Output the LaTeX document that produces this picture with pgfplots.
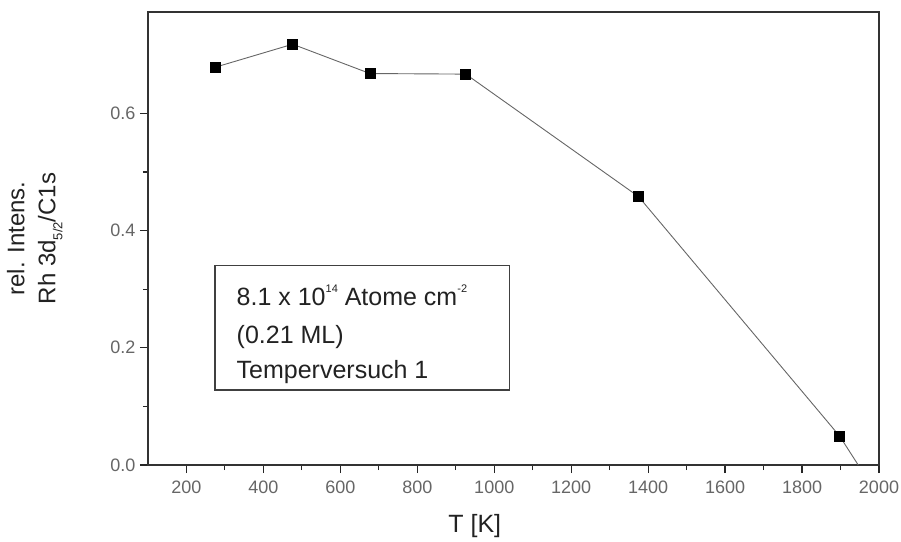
\documentclass[border=0pt]{standalone}
\usepackage{pgfplots}
\pgfplotsset{compat=1.18}
\usepackage{fontspec}
\setmainfont{Liberation Sans}
\definecolor{tickgray}{HTML}{666666}
\definecolor{linegray}{HTML}{666666}
\definecolor{textgray}{HTML}{222222}
\begin{document}
\begin{tikzpicture}[x=1pt,y=1pt]
\useasboundingbox (-148,-76) rectangle (753,465);
\begin{axis}[
  at={(0,0)}, anchor=south west,
  scale only axis, width=731pt, height=453pt,
  xmin=100, xmax=2000, ymin=0, ymax=0.773,
  xtick={200,400,...,2000},
  minor x tick num=1,
  ytick={0,0.2,0.4,0.6},
  minor y tick num=1,
  tick align=outside,
  xtick pos=bottom, ytick pos=left,
  major tick length=8pt, minor tick length=5pt,
  every tick/.style={black!85, line width=1.3pt},
  every minor tick/.style={black!85, line width=1.1pt},
  axis line style={line width=1.6pt, black!80},
  /pgf/number format/assume math mode=true,
  xticklabel style={yshift=-4pt},
  yticklabel style={xshift=-1pt},
  y tick label style={/pgf/number format/fixed, /pgf/number format/fixed zerofill, /pgf/number format/precision=1},
  x tick label style={/pgf/number format/set thousands separator={}},
  ticklabel style={font=\fontsize{18}{20}\selectfont, text=tickgray},
  xlabel={T [K]},
  xlabel style={font=\fontsize{25}{27}\selectfont, text=textgray, at={(axis description cs:0.447,-0.150)}, anchor=base},
  ylabel={rel. Intens.\\Rh 3d\raisebox{-0.3em}{\fontsize{13}{13}\selectfont 5/2}/C1s},
  ylabel style={font=\fontsize{24}{31}\selectfont, text=textgray, align=center, at={(axis description cs:-0.112,0.5)}, anchor=south},
  clip=false,
]
\addplot[linegray, line width=0.9pt, mark=square*, mark size=5pt,
  mark options={fill=black, draw=black, solid}] coordinates {
  (276,0.679) (476,0.718) (677,0.668) (926,0.667) (1375,0.458) (1898,0.049)
};
\addplot[linegray, line width=0.9pt, no marks] coordinates {
  (1898,0.049) (1946,0.0)
};
\draw[line width=1.2pt, black!75] (axis cs:274,0.341) rectangle (axis cs:1040,0.128);
\node[anchor=base west, font=\fontsize{25}{27}\selectfont, text=textgray, inner sep=0pt] at (axis cs:330,0.273) {8.1 x 10\raisebox{0.5em}{\fontsize{11}{11}\selectfont 14} Atome cm\raisebox{0.5em}{\fontsize{11}{11}\selectfont -2}};
\node[anchor=base west, font=\fontsize{25}{27}\selectfont, text=textgray, inner sep=0pt] at (axis cs:330,0.208) {(0.21 ML)};
\node[anchor=base west, font=\fontsize{25}{27}\selectfont, text=textgray, inner sep=0pt] at (axis cs:330,0.148) {Temperversuch 1};
\end{axis}
\end{tikzpicture}
\end{document}
